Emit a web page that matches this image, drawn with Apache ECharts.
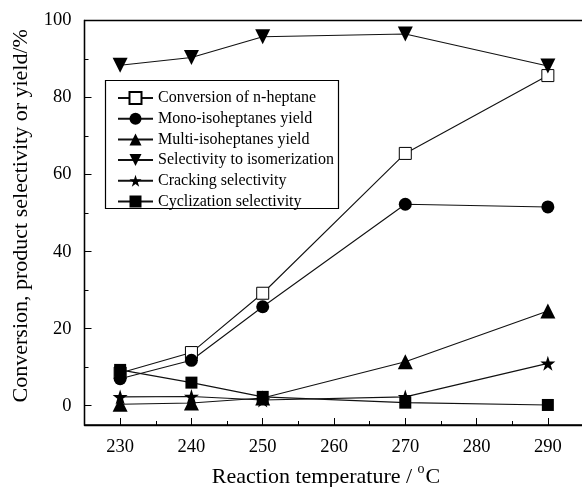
<!DOCTYPE html>
<html>
<head>
<meta charset="utf-8">
<script src="https://cdn.jsdelivr.net/npm/echarts@6/dist/echarts.min.js"></script>
<style>
html,body{margin:0;padding:0;background:#fff;}
#chart{width:582px;height:487px;}
</style>
</head>
<body>
<div id="chart"></div>
<script>
const temperatures = [230, 240, 250, 270, 290];
const conversion = [8.5, 13.8, 29.2, 65.5, 85.7];
const monoYield = [7.0, 11.8, 25.7, 52.3, 51.6];
const multiYield = [0.4, 0.7, 2.0, 11.4, 24.6];
const isoSelectivity = [88.4, 90.4, 95.8, 96.5, 88.2];
const crackSelectivity = [2.3, 2.4, 1.5, 2.3, 11.0];
const cycloSelectivity = [9.3, 6.0, 2.3, 0.8, 0.2];

const xMajorTicks = [230, 240, 250, 260, 270, 280, 290];
const xMinorTicks = [235, 245, 255, 265, 275, 285];
const yMajorTicks = [0, 20, 40, 60, 80, 100];
const yMinorTicks = [10, 30, 50, 70, 90];

const seriesNames = [
  'Conversion of n-heptane',
  'Mono-isoheptanes yield',
  'Multi-isoheptanes yield',
  'Selectivity to isomerization',
  'Cracking selectivity',
  'Cyclization selectivity'
];

const FONT = '"Liberation Serif", "Times New Roman", serif';
const starPath = 'path://M50,0 L61.2,34.5 L97.6,34.5 L68.2,55.9 L79.4,90.5 L50,69.1 L20.6,90.5 L31.8,55.9 L2.4,34.5 L38.8,34.5 Z';

function pairs(vals) { return temperatures.map((t, i) => [t, vals[i]]); }

function mkSeries(name, vals, symbol, size, opts) {
  return Object.assign({
    name: name,
    type: 'line',
    xAxisIndex: 0,
    yAxisIndex: 0,
    data: pairs(vals),
    symbol: symbol,
    symbolSize: size,
    showAllSymbol: true,
    lineStyle: { color: '#111', width: 1.1 },
    itemStyle: { color: '#000', borderColor: '#000', borderWidth: 0, opacity: 1 },
    emphasis: { disabled: true },
    animation: false
  }, opts || {});
}

const chart = echarts.init(document.getElementById('chart'), null, { renderer: 'canvas' });

const option = {
  backgroundColor: '#fff',
  animation: false,
  grid: {
    left: 84.5, top: 20.5, width: 499, height: 404.5,
    containLabel: false,
    outerBoundsMode: 'none',
    show: true, borderColor: '#000', borderWidth: 1.3, backgroundColor: 'transparent'
  },
  graphic: [{
    type: 'rect',
    shape: { x: 105.5, y: 80.5, width: 233, height: 128 },
    style: { fill: '#fff', stroke: '#000', lineWidth: 1.2 },
    z: 50
  }],
  legend: {
    orient: 'vertical',
    left: 117, top: 90,
    padding: 0,
    itemWidth: 35, itemHeight: 15, itemGap: 4.7,
    selectedMode: false,
    textStyle: { fontFamily: FONT, fontSize: 16, color: '#000', lineHeight: 16 },
    data: seriesNames,
    z: 60
  },
  xAxis: [{
    type: 'value', min: 225, max: 295, position: 'bottom',
    name: 'Reaction temperature / {sup|o}C',
    nameLocation: 'middle', nameGap: 34,
    nameTextStyle: {
      fontFamily: FONT, fontSize: 22, color: '#000', padding: [0, 16, 0, 0],
      rich: { sup: { fontFamily: FONT, fontSize: 14, color: '#000', padding: [0, 1, 16, 0] } }
    },
    axisLine: { show: true, onZero: false, lineStyle: { color: '#000', width: 1.3 } },
    axisTick: { show: true, inside: true, length: 7, customValues: xMajorTicks, lineStyle: { color: '#000', width: 1 } },
    axisLabel: { show: true, customValues: xMajorTicks, fontFamily: FONT, fontSize: 18.5, color: '#000', margin: 13 },
    splitLine: { show: false }
  }, {
    type: 'value', min: 225, max: 295, position: 'bottom', gridIndex: 0,
    axisLine: { show: false, onZero: false },
    axisTick: { show: true, inside: true, length: 4, customValues: xMinorTicks, lineStyle: { color: '#000', width: 1 } },
    axisLabel: { show: false },
    splitLine: { show: false }
  }],
  yAxis: [{
    type: 'value', min: -5, max: 100, position: 'left',
    name: 'Conversion, product selectivity or yield/%',
    nameLocation: 'middle', nameGap: 52,
    nameTextStyle: { fontFamily: FONT, fontSize: 22, color: '#000', padding: [0, 0, 0, 14] },
    axisLine: { show: true, onZero: false, lineStyle: { color: '#000', width: 1.3 } },
    axisTick: { show: true, inside: true, length: 7, customValues: yMajorTicks, lineStyle: { color: '#000', width: 1 } },
    axisLabel: { show: true, customValues: yMajorTicks, fontFamily: FONT, fontSize: 18.5, color: '#000', margin: 13 },
    splitLine: { show: false }
  }, {
    type: 'value', min: -5, max: 100, position: 'left', gridIndex: 0,
    axisLine: { show: false, onZero: false },
    axisTick: { show: true, inside: true, length: 4, customValues: yMinorTicks, lineStyle: { color: '#000', width: 1 } },
    axisLabel: { show: false },
    splitLine: { show: false }
  }],
  series: [
    mkSeries(seriesNames[0], conversion, 'rect', 12, {
      itemStyle: { color: '#fff', borderColor: '#000', borderWidth: 1, opacity: 1 }, z: 3
    }),
    mkSeries(seriesNames[1], monoYield, 'circle', 13),
    mkSeries(seriesNames[2], multiYield, 'triangle', 15),
    mkSeries(seriesNames[3], isoSelectivity, 'triangle', 15, { symbolRotate: 180 }),
    mkSeries(seriesNames[4], crackSelectivity, starPath, 15),
    mkSeries(seriesNames[5], cycloSelectivity, 'rect', 12)
  ]
};

chart.setOption(option);
</script>
</body>
</html>
